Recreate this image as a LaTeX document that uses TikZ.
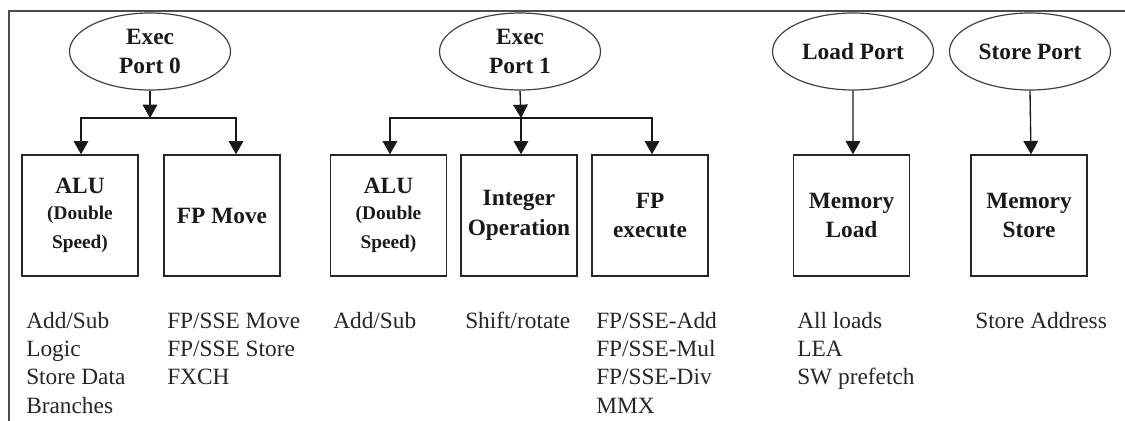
\documentclass[tikz,border=0pt]{standalone}
\usepackage{fontspec}
\setmainfont{Liberation Serif}
\usetikzlibrary{shapes.geometric,arrows.meta}

% font sizes for labels, small notes and operation lists
\newcommand\lblfont{\fontsize{17.5}{22}\selectfont\bfseries}
\newcommand\notefont{\fontsize{14.5}{19}\selectfont\bfseries}
\newcommand\opsfont{\fontsize{17.5}{21.3}\selectfont}

\tikzset{
  port/.style={ellipse, draw=black!75, line width=0.9pt, minimum width=120.75pt,
    minimum height=57.75pt, inner sep=0pt, align=center, font=\lblfont, text=black!90},
  unit/.style={rectangle, draw=black!85, line width=1pt, minimum width=87pt,
    minimum height=90.75pt, inner sep=0pt, align=center, font=\lblfont, text=black!90},
  ops/.style={anchor=north west, inner sep=0pt, align=left, font=\opsfont, text=black!85},
  arr/.style={-{Triangle[width=11pt,length=10pt]}, line width=1pt, draw=black!90},
  frame/.style={draw=black!70, line width=1.1pt}
}

\begin{document}
\begin{tikzpicture}[x=0.75pt,y=-0.75pt]
\useasboundingbox (0,0) rectangle (1125,421);

% cropped frame: top and left edges
\coordinate (ftl) at (9,11);
\coordinate (ftr) at (1125,11);
\coordinate (fbl) at (9,421);
\draw[frame] (ftr) -- (ftl) -- (fbl);

% issue ports
\node[port] (p0) at (150,51.5) {Exec\\Port 0};
\node[port] (p1) at (520,51.5) {Exec\\Port 1};
\node[port] (pl) at (853,51.5) {Load Port};
\node[port] (ps) at (1030,51.5) {Store Port};

% execution units
\node[unit] (alu0) at (80,215.5) {ALU\\[-3pt]\notefont (Double\\\notefont Speed)};
\node[unit] (fpm) at (222,215.5) {FP Move};
\node[unit] (alu1) at (388.5,215.5) {ALU\\[-3pt]\notefont (Double\\\notefont Speed)};
\node[unit] (iop) at (519,215.5) {Integer\\Operation};
\node[unit] (fpx) at (650,215.5) {FP\\execute};
\node[unit] (mld) at (851.5,215.5) {Memory\\Load};
\node[unit] (mst) at (1029,215.5) {Memory\\Store};

% branch points below the execution ports
\coordinate (j0) at (150,118);
\coordinate (j1) at (521,118);

% port 0 fan-out
\draw[arr] (p0.south) -- (j0);
\draw[arr] (j0) -| ([xshift=0.75pt]alu0.north);
\draw[arr] (j0) -| ([xshift=10.5pt]fpm.north);

% port 1 fan-out
\draw[arr] (p1.south) -- (j1);
\draw[arr] (j1) -| ([xshift=1.1pt]alu1.north);
\draw[arr] (j1) -- ([xshift=1.5pt]iop.north);
\draw[arr] (j1) -| ([xshift=1.5pt]fpx.north);

% load and store ports
\draw[arr] (pl.south) -- ([xshift=1.1pt]mld.north);
\draw[arr] (ps.south) -- ([xshift=1.5pt]mst.north);

% operations handled by each unit
\node[ops] (o1) at (26,308) {\strut Add/Sub\\Logic\\Store Data\\Branches};
\node[ops] (o2) at (167,308) {\strut FP/SSE Move\\FP/SSE Store\\FXCH};
\node[ops] (o3) at (333,308) {\strut Add/Sub};
\node[ops] (o4) at (465,308) {\strut Shift/rotate};
\node[ops] (o5) at (596,308) {\strut FP/SSE-Add\\FP/SSE-Mul\\FP/SSE-Div\\MMX};
\node[ops] (o6) at (797,308) {\strut All loads\\LEA\\SW prefetch};
\node[ops] (o7) at (975,308) {\strut Store Address};
\end{tikzpicture}
\end{document}
